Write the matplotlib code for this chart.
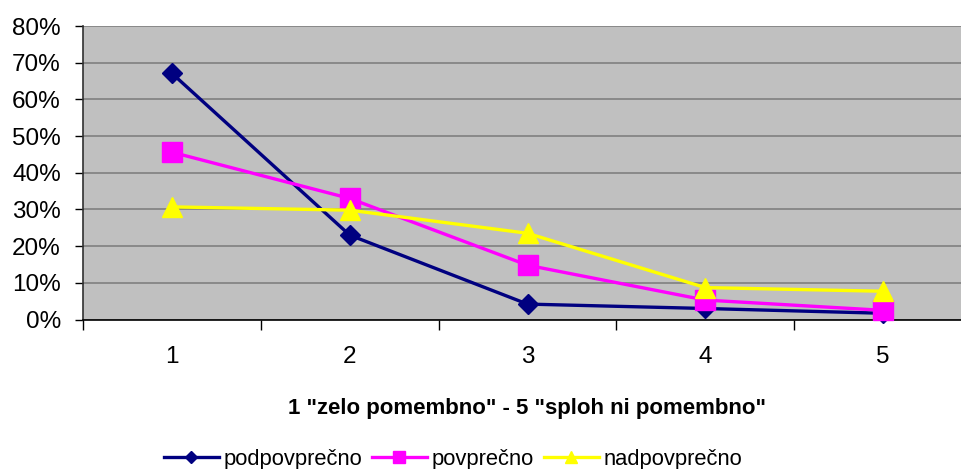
import matplotlib
matplotlib.use("Agg")
from matplotlib import pyplot as plt
from matplotlib.ticker import FuncFormatter

plt.rcParams["font.family"] = ["Liberation Sans", "DejaVu Sans"]

ratings = [1, 2, 3, 4, 5]
rating_labels = ["1", "2", "3", "4", "5"]

podpovprecno = [0.671, 0.230, 0.042, 0.030, 0.017]
povprecno = [0.456, 0.330, 0.148, 0.053, 0.025]
nadpovprecno = [0.307, 0.298, 0.235, 0.087, 0.077]

series = [
    ("podpovprečno", podpovprecno, "#000080", "D", 10),
    ("povprečno", povprecno, "#FF00FF", "s", 14),
    ("nadpovprečno", nadpovprecno, "#FFFF00", "^", 14),
]

fig = plt.figure(figsize=(9.61, 4.69), dpi=100)
W, H = 961, 469
left, right, top, bottom = 83, 972, 26, 319.5
ax = fig.add_axes([left / W, 1 - bottom / H, (right - left) / W, (bottom - top) / H])
ax.set_facecolor("#C0C0C0")

for name, vals, color, marker, ms in series:
    ax.plot(ratings, vals, color=color, lw=2.4, marker=marker, markersize=ms,
            markerfacecolor=color, markeredgecolor=color, label=name, clip_on=False, zorder=3)

ax.set_xlim(0.5, 5.5)
ax.set_ylim(0, 0.8)
ax.set_yticks([i / 10 for i in range(9)])
ax.yaxis.set_major_formatter(FuncFormatter(lambda v, _: f"{v * 100:.0f}%"))
ax.yaxis.grid(True, color="#808080", lw=1.2)
ax.set_axisbelow(True)

# category boundaries get ticks, labels sit in the middle
ax.set_xticks([r - 0.5 for r in ratings] + [5.5])
ax.set_xticklabels([])
ax.set_xticks(ratings, minor=True)
ax.set_xticklabels(rating_labels, minor=True)
ax.tick_params(axis="x", which="major", length=7, width=1, color="black", direction="out")
ax.tick_params(axis="x", which="minor", length=0, pad=19, labelsize=17.5)
ax.tick_params(axis="y", length=6, width=1, color="black", direction="out", pad=10, labelsize=17.5)

for s in ("top", "right"):
    ax.spines[s].set_visible(False)
ax.spines["left"].set_color("#303030")
ax.spines["bottom"].set_color("black")
ax.spines["left"].set_linewidth(1.2)
ax.spines["bottom"].set_linewidth(1.2)

fig.text(527 / W, 1 - 408 / H, '1 "zelo pomembno" - 5 "sploh ni pomembno"',
         ha="center", va="center", fontsize=16, fontweight="bold")

fig.legend(loc="center", bbox_to_anchor=(453 / W, 1 - 459 / H), ncol=3, frameon=False,
           fontsize=15.8, handlelength=2.5, handletextpad=0.22, columnspacing=0.45,
           borderaxespad=0, borderpad=0, markerscale=0.65)

fig.savefig("out.png", dpi=100)
